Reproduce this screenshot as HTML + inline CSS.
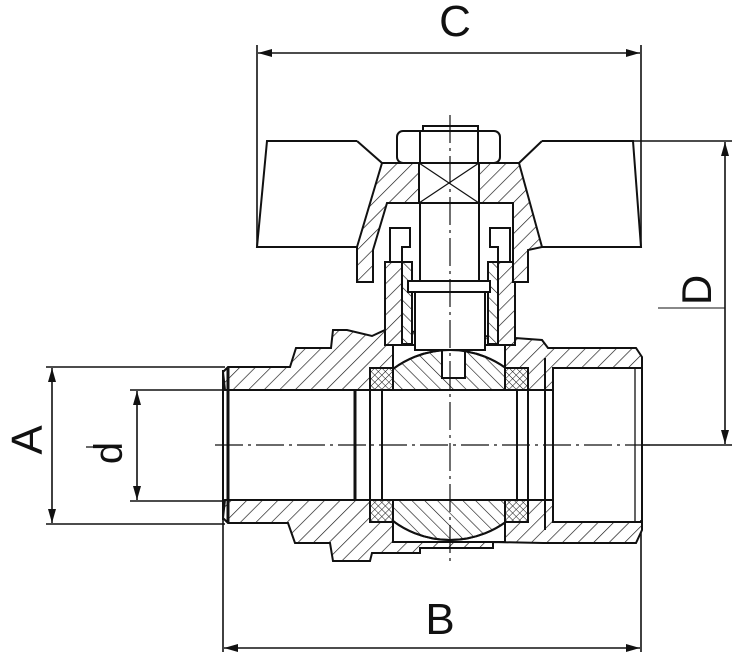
<!DOCTYPE html>
<html><head><meta charset="utf-8"><style>
html,body{margin:0;padding:0;background:#fff;}
svg{display:block;}
text{font-family:"Liberation Sans",sans-serif;fill:#111;}
</style></head><body>
<svg width="734" height="659" viewBox="0 0 734 659" xmlns="http://www.w3.org/2000/svg">
<defs>
<pattern id="h1" patternUnits="userSpaceOnUse" width="11" height="11" patternTransform="rotate(45)">
<rect width="11" height="11" fill="#fff"/><line x1="0" y1="0" x2="0" y2="11" stroke="#111" stroke-width="1.3"/></pattern>
<pattern id="h2" patternUnits="userSpaceOnUse" width="9" height="9" patternTransform="rotate(-45)">
<rect width="9" height="9" fill="#fff"/><line x1="0" y1="0" x2="0" y2="9" stroke="#111" stroke-width="1.2"/></pattern>
<pattern id="hx" patternUnits="userSpaceOnUse" width="5" height="5" patternTransform="rotate(45)">
<rect width="5" height="5" fill="#fff"/><line x1="0" y1="0" x2="0" y2="5" stroke="#111" stroke-width="1"/><line x1="0" y1="0" x2="5" y2="0" stroke="#111" stroke-width="1"/></pattern>
<clipPath id="ballTop"><rect x="393" y="340" width="112" height="50"/></clipPath>
<clipPath id="ballBot"><rect x="393" y="500" width="112" height="50"/></clipPath>
<marker id="ar" markerWidth="14" markerHeight="8" refX="14" refY="4" orient="auto-start-reverse" markerUnits="userSpaceOnUse">
<path d="M0,0 L14,4 L0,8 Z" fill="#111"/></marker>
</defs>

<g stroke="#111" stroke-width="1.6" fill="none">
<line x1="257" y1="45" x2="257" y2="247"/>
<line x1="641" y1="45" x2="641" y2="247"/>
<line x1="258" y1="53" x2="640" y2="53" marker-end="url(#ar)" marker-start="url(#ar)"/>
<line x1="545" y1="141" x2="732" y2="141"/>
<line x1="560" y1="445" x2="732" y2="445"/>
<line x1="725" y1="142" x2="725" y2="444" marker-end="url(#ar)" marker-start="url(#ar)"/>
<line x1="658" y1="308" x2="725" y2="308" stroke-width="1"/>
<line x1="46" y1="367" x2="225" y2="367"/>
<line x1="46" y1="524" x2="225" y2="524"/>
<line x1="52" y1="368" x2="52" y2="523" marker-end="url(#ar)" marker-start="url(#ar)"/>
<line x1="130" y1="390" x2="225" y2="390"/>
<line x1="130" y1="501" x2="225" y2="501"/>
<line x1="137" y1="391" x2="137" y2="500" marker-end="url(#ar)" marker-start="url(#ar)"/>
<line x1="86" y1="447" x2="122" y2="447" stroke-width="1.2"/>
<line x1="223" y1="520" x2="223" y2="652"/>
<line x1="641" y1="520" x2="641" y2="652"/>
<line x1="224" y1="648" x2="640" y2="648" marker-end="url(#ar)" marker-start="url(#ar)"/>
</g>

<text x="455" y="36" font-size="44" text-anchor="middle">C</text>
<text x="440" y="634" font-size="44" text-anchor="middle">B</text>
<text transform="translate(42,440) rotate(-90)" font-size="44" text-anchor="middle">A</text>
<text transform="translate(122,453) rotate(-90)" font-size="40" text-anchor="middle">d</text>
<text transform="translate(711,290) rotate(-90)" font-size="42" text-anchor="middle">D</text>

<g stroke="#111" stroke-width="2" stroke-linejoin="miter">
<path d="M357,141 L267,141 L257,247 L360,247" fill="none"/>
<path d="M542,141 L633,141 L641,247 L540,247" fill="none"/>
<path d="M357,141 L382,163 M542,141 L519,163" fill="none"/>

<path d="M223,372 L228,367 L290,367 L296,348 L331,348 L333,330 L347,330 L372,336 L385,330 L515,338 L542,340 L548,348 L636,348 L642,357 L642,368 L553,368 L553,390 L225,390 Z" fill="url(#h1)"/>
<path d="M223,518 L228,523 L288,523 L295,543 L330,543 L333,561 L370,561 L372,553 L420,553 L420,548 L493,548 L493,542 L543,543 L636,543 L642,530 L642,522 L553,522 L553,500 L225,500 Z" fill="url(#h1)"/>
<rect x="393" y="345" width="112" height="45" fill="#fff"/>
<rect x="393" y="500" width="112" height="42" fill="#fff"/>
<circle cx="450" cy="445" r="95" fill="url(#h2)" clip-path="url(#ballTop)"/>
<circle cx="450" cy="445" r="95" fill="url(#h2)" clip-path="url(#ballBot)"/>
<rect x="225" y="390" width="417" height="110" fill="#fff" stroke="none"/>
<rect x="553" y="368" width="82" height="154" fill="#fff" stroke="none"/>
<line x1="225" y1="390" x2="553" y2="390"/>
<line x1="225" y1="500" x2="553" y2="500"/>
<line x1="228" y1="367" x2="228" y2="523" stroke-width="3"/>
<line x1="223" y1="370" x2="223" y2="520"/>
<line x1="355" y1="390" x2="355" y2="500" stroke-width="3"/>
<line x1="370" y1="367" x2="370" y2="523"/>
<line x1="382" y1="367" x2="382" y2="523"/>
<line x1="517" y1="367" x2="517" y2="523"/>
<line x1="528" y1="367" x2="528" y2="523"/>
<line x1="545" y1="358" x2="545" y2="530"/>
<line x1="553" y1="368" x2="553" y2="522"/>
<line x1="635" y1="368" x2="635" y2="522" stroke-width="1.3"/>
<line x1="553" y1="368" x2="642" y2="368"/>
<line x1="553" y1="522" x2="642" y2="522"/>
<line x1="642" y1="357" x2="642" y2="530"/>
<rect x="370" y="368" width="23" height="22" fill="url(#hx)"/>
<rect x="505" y="368" width="23" height="22" fill="url(#hx)"/>
<rect x="370" y="500" width="23" height="22" fill="url(#hx)"/>
<rect x="505" y="500" width="23" height="22" fill="url(#hx)"/>

<path d="M385,262 L402,262 L402,345 L385,345 Z" fill="url(#h1)"/>
<path d="M498,262 L515,262 L515,345 L498,345 Z" fill="url(#h1)"/>
<path d="M390,228 L410,228 L410,247 L402,247 L402,262 L390,262 Z" fill="#fff"/>
<path d="M510,228 L490,228 L490,247 L498,247 L498,262 L510,262 Z" fill="#fff"/>
<rect x="402" y="262" width="10" height="82" fill="url(#h2)"/>
<rect x="488" y="262" width="10" height="82" fill="url(#h2)"/>

<path d="M382,163 L519,163 L542,247 L528,250 L528,282 L513,282 L513,203 L387,203 L373,250 L373,282 L357,282 L357,247 Z" fill="url(#h1)"/>
<rect x="423" y="126" width="55" height="6" fill="#fff"/>
<rect x="397" y="131" width="103" height="32" rx="6" fill="#fff"/>
<line x1="420" y1="131" x2="420" y2="163"/>
<line x1="478" y1="131" x2="478" y2="163"/>
<rect x="419" y="163" width="60" height="40" fill="#fff"/>
<path d="M419,163 L479,203 M479,163 L419,203" stroke-width="1.2"/>
<rect x="420" y="203" width="59" height="78" fill="#fff"/>
<rect x="408" y="281" width="82" height="11" fill="#fff"/>
<rect x="415" y="292" width="70" height="58" fill="#fff"/>
<rect x="442" y="350" width="23" height="28" fill="#fff"/>
<circle cx="450" cy="445" r="95" fill="none" clip-path="url(#ballTop)"/>
<circle cx="450" cy="445" r="95" fill="none" clip-path="url(#ballBot)"/>
</g>

<g stroke="#111" stroke-width="1.2" fill="none" stroke-dasharray="28,5,3,5">
<line x1="215" y1="445" x2="650" y2="445"/>
<line x1="450" y1="115" x2="450" y2="565"/>
</g>
</svg>
</body></html>
